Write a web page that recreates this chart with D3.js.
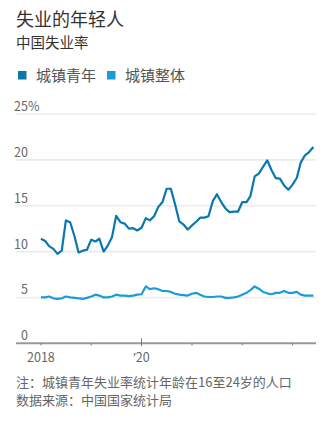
<!DOCTYPE html>
<html lang="zh">
<head>
<meta charset="UTF-8">
<title>失业的年轻人</title>
<script src="https://d3js.org/d3.v7.min.js"></script>
<style>
    body {
        margin: 0;
        background: #fff;
    }
    svg text {
        font-family: "Noto Sans CJK SC", "Noto Sans", sans-serif;
    }
</style>
</head>
<body>
<div id="chart"></div>
<script>
    // monthly, Jan 2018 - Jun 2023
    const months = d3.timeMonth.range(new Date(2018, 0, 1), new Date(2023, 6, 1));

    // 城镇青年 (16-24)
    const youth = [
        11.4, 11.15, 10.6, 10.3, 9.75, 10.1, 13.4, 13.2, 11.7, 9.9, 10.1, 10.2,
        11.3, 11.1, 11.4, 10.0, 10.65, 11.6, 13.9, 13.2, 13.05, 12.5, 12.55, 12.3,
        12.6, 13.65, 13.4, 13.85, 14.85, 15.4, 16.85, 16.85, 15.1, 13.3, 12.95, 12.4,
        12.85, 13.25, 13.7, 13.7, 13.85, 15.5, 16.25, 15.4, 14.7, 14.3, 14.35, 14.35,
        15.4, 15.4, 16.05, 18.2, 18.5, 19.25, 19.95, 18.9, 18.0, 17.95, 17.2, 16.75,
        17.3, 18.05, 19.7, 20.5, 20.85, 21.4
    ];

    // 城镇整体
    const overall = [
        5.0, 5.0, 5.1, 4.9, 4.85, 4.9, 5.1, 5.0, 4.95, 4.9, 4.85, 4.95,
        5.1, 5.3, 5.2, 5.0, 5.0, 5.1, 5.3, 5.2, 5.2, 5.15, 5.2, 5.3,
        5.35, 6.2, 5.9, 6.0, 5.9, 5.7, 5.7, 5.6, 5.4, 5.3, 5.25, 5.2,
        5.4, 5.5, 5.3, 5.1, 5.05, 5.05, 5.1, 5.1, 4.95, 4.95, 5.0, 5.1,
        5.3, 5.5, 5.8, 6.2, 5.95, 5.6, 5.45, 5.35, 5.5, 5.5, 5.7, 5.5,
        5.5, 5.6, 5.3, 5.2, 5.2, 5.2
    ];

    const yTicks = [0, 5, 10, 15, 20, 25];
    const xTickYears = [2018, 2019, 2020, 2021, 2022, 2023];
    const xTickLabels = {2018: ['', '2018'], 2020: ['\u2019', '20']};

    const legendItems = [
        {label: '城镇青年', color: '#0a77ad'},
        {label: '城镇整体', color: '#1b9cd9'}
    ];

    const notes = [
        '注：城镇青年失业率统计年龄在16至24岁的人口',
        '数据来源：中国国家统计局'
    ];

    const width = 336, height = 421;
    const plot = {left: 16, right: 316, top: 114, bottom: 343.3};

    const svg = d3.select('#chart').append('svg')
        .attr('width', width)
        .attr('height', height);

    // heading
    svg.append('text')
        .attr('x', 16).attr('y', 25.5)
        .attr('font-size', 18)
        .attr('fill', '#333')
        .text('失业的年轻人');
    svg.append('text')
        .attr('x', 16).attr('y', 47.5)
        .attr('font-size', 14.5)
        .attr('fill', '#333')
        .text('中国失业率');

    // legend
    const legendX = [18, 107];
    const legend = svg.selectAll('g.legend')
        .data(legendItems)
        .join('g')
        .attr('class', 'legend')
        .attr('transform', (d, i) => `translate(${legendX[i]},71)`);
    legend.append('rect')
        .attr('width', 8.5).attr('height', 8.5)
        .attr('fill', d => d.color);
    legend.append('text')
        .attr('x', 18).attr('y', 9.5)
        .attr('font-size', 15)
        .attr('fill', '#555')
        .text(d => d.label);

    const x = d3.scaleTime()
        .domain([new Date(2017, 6, 4), new Date(2023, 5, 20)])
        .range([plot.left, plot.right]);

    const y = d3.scaleLinear()
        .domain([0, 25])
        .range([plot.bottom, plot.top]);

    // gridlines
    svg.append('g')
        .selectAll('line')
        .data(yTicks.filter(d => d > 0))
        .join('line')
        .attr('x1', plot.left).attr('x2', plot.right)
        .attr('y1', d => y(d)).attr('y2', d => y(d))
        .attr('stroke', '#ebebeb')
        .attr('stroke-width', 1.6);

    // y labels, sitting on top of their gridline
    svg.append('g')
        .selectAll('text')
        .data(yTicks)
        .join('text')
        .attr('x', 28)
        .attr('y', d => y(d) - 3)
        .attr('font-size', 12.5)
        .attr('fill', '#666')
        .attr('text-anchor', 'end')
        .text(d => d);
    svg.append('text')
        .attr('x', 28)
        .attr('y', y(25) - 3)
        .attr('font-size', 12.5)
        .attr('fill', '#666')
        .text('%');

    // lines
    const line = d3.line()
        .x((d, i) => x(months[i]))
        .y(d => y(d));

    svg.append('path')
        .datum(overall)
        .attr('d', line)
        .attr('fill', 'none')
        .attr('stroke', legendItems[1].color)
        .attr('stroke-width', 2.2)
        .attr('stroke-linejoin', 'round');

    svg.append('path')
        .datum(youth)
        .attr('d', line)
        .attr('fill', 'none')
        .attr('stroke', legendItems[0].color)
        .attr('stroke-width', 2.2)
        .attr('stroke-linejoin', 'round');

    // x axis
    svg.append('line')
        .attr('x1', plot.left).attr('x2', plot.right)
        .attr('y1', plot.bottom).attr('y2', plot.bottom)
        .attr('stroke', '#999')
        .attr('stroke-width', 2);

    svg.append('g')
        .selectAll('line')
        .data(xTickYears)
        .join('line')
        .attr('x1', d => x(new Date(d, 0, 1)))
        .attr('x2', d => x(new Date(d, 0, 1)))
        .attr('y1', d => d === 2020 ? plot.bottom - 5 : plot.bottom)
        .attr('y2', d => d === 2020 ? plot.bottom + 3 : plot.bottom + 2)
        .attr('stroke', '#777')
        .attr('stroke-width', 1);

    // the apostrophe uses a latin face so it stays narrow
    const xLabels = svg.append('g')
        .selectAll('text')
        .data(xTickYears.filter(d => xTickLabels[d]))
        .join('text')
        .attr('x', d => x(new Date(d, 0, 1)))
        .attr('y', 362)
        .attr('font-size', 12.5)
        .attr('fill', '#666')
        .attr('text-anchor', 'middle');
    xLabels.append('tspan')
        .style('font-family', '"Noto Sans", sans-serif')
        .text(d => xTickLabels[d][0]);
    xLabels.append('tspan')
        .text(d => xTickLabels[d][1]);

    // footnotes
    svg.append('g')
        .selectAll('text')
        .data(notes)
        .join('text')
        .attr('x', 16)
        .attr('y', (d, i) => 387 + i * 18)
        .attr('font-size', 13)
        .attr('fill', '#666')
        .text(d => d);
</script>
</body>
</html>
